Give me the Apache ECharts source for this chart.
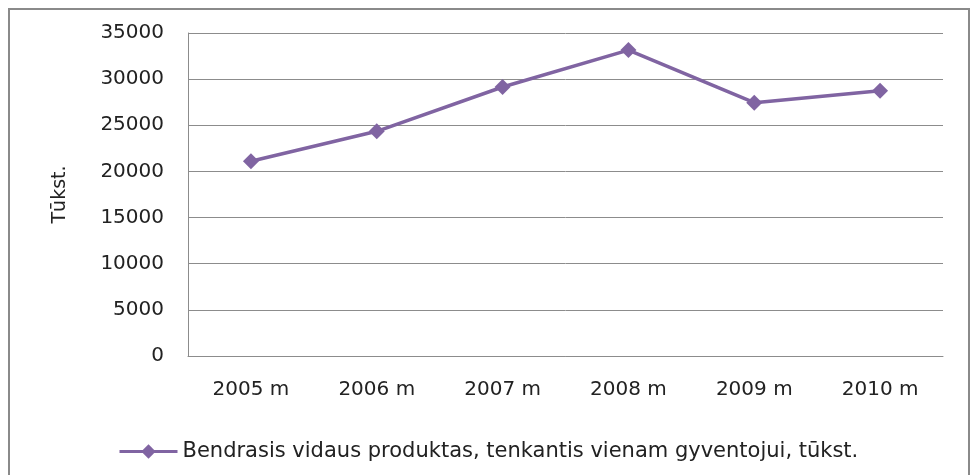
<!DOCTYPE html>
<html>
<head>
<meta charset="utf-8">
<script src="https://cdn.jsdelivr.net/npm/echarts@6/dist/echarts.min.js"></script>
<style>
  body { margin: 0; background: #fff; }
  #box { width: 970px; height: 475px; }
</style>
</head>
<body>
<div id="box"></div>
<script>
var years = ['2005 m', '2006 m', '2007 m', '2008 m', '2009 m', '2010 m'];
var bvp = [21100, 24350, 29150, 33150, 27450, 28750];
var seriesName = 'Bendrasis vidaus produktas, tenkantis vienam gyventojui, tūkst.';
var yTitle = 'Tūkst.';

var myChart = echarts.init(document.getElementById('box'));
var font = 'DejaVu Sans';
var option = {
    animation: false,
    textStyle: { fontFamily: font },
    graphic: [{
        type: 'rect',
        shape: { x: 9, y: 9, width: 960, height: 480 },
        style: { fill: 'none', stroke: '#8a8a8a', lineWidth: 2 },
        z: -1
    }],
    grid: {
        left: 188,
        right: 27,
        top: 33,
        bottom: 119
    },
    legend: {
        data: [seriesName],
        left: 113,
        top: 436,
        itemWidth: 58,
        itemHeight: 18,
        itemGap: 4,
        lineStyle: { width: 3 },
        textStyle: { fontFamily: font, fontSize: 21, color: '#222' }
    },
    xAxis: {
        type: 'category',
        data: years,
        boundaryGap: true,
        axisLine: { lineStyle: { color: '#8c8c8c', width: 1 } },
        axisTick: { show: false },
        axisLabel: { margin: 24, fontFamily: font, fontSize: 20, color: '#222' }
    },
    yAxis: {
        type: 'value',
        min: 0,
        max: 35000,
        interval: 5000,
        name: yTitle,
        nameLocation: 'middle',
        nameGap: 118,
        nameRotate: 90,
        nameTextStyle: { fontFamily: font, fontSize: 19, color: '#222' },
        axisLine: { show: true, lineStyle: { color: '#8c8c8c', width: 1 } },
        axisTick: { show: false },
        axisLabel: {
            margin: 24,
            fontFamily: font,
            fontSize: 20,
            color: '#222',
            formatter: function (v) { return String(v); }
        },
        splitLine: { lineStyle: { color: '#8c8c8c', width: 1 } }
    },
    series: [{
        name: seriesName,
        type: 'line',
        data: bvp,
        symbol: 'diamond',
        symbolSize: 16,
        color: '#8064A2',
        lineStyle: { width: 3.5 }
    }]
};
myChart.setOption(option);
</script>
</body>
</html>
